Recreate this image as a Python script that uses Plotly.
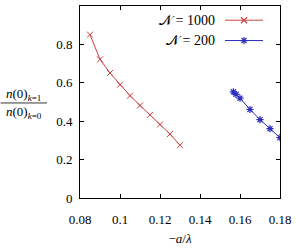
import plotly.graph_objects as go

# Data
x_1000 = [0.085, 0.09, 0.095, 0.10, 0.105, 0.11, 0.115, 0.12, 0.125, 0.13]
y_1000 = [0.851, 0.722, 0.651, 0.590, 0.533, 0.482, 0.433, 0.383, 0.333, 0.275]
x_200 = [0.1567, 0.158, 0.160, 0.165, 0.170, 0.175, 0.180]
y_200 = [0.553, 0.540, 0.520, 0.461, 0.408, 0.361, 0.314]
labels = ["𝒩 = 1000", "𝒩 = 200"]

RED = "rgb(205,65,65)"
BLUE = "rgb(45,45,190)"
FONT = "Liberation Serif"

fig = go.Figure()
fig.add_trace(go.Scatter(x=x_1000, y=y_1000, mode="lines+markers",
                         line=dict(color=RED, width=1),
                         marker=dict(symbol="x-thin-open", size=6, color=RED, line=dict(color=RED, width=1)),
                         showlegend=False))
fig.add_trace(go.Scatter(x=x_200, y=y_200, mode="lines+markers",
                         line=dict(color=BLUE, width=1),
                         marker=dict(symbol="asterisk-open", size=6, color=BLUE, line=dict(color=BLUE, width=1.2)),
                         showlegend=False))

# custom legend (text left of sample)
leg = [(labels[0], RED, "x-thin-open", 0.926), (labels[1], BLUE, "asterisk-open", 0.82)]
for txt, col, sym, yy in leg:
    fig.add_annotation(x=0.685, y=yy, xref="paper", yref="paper", text=txt, showarrow=False,
                       xanchor="right", yanchor="middle", font=dict(family=FONT, size=14, color="black"))
    fig.add_shape(type="line", xref="paper", yref="paper", x0=0.725, x1=0.915, y0=yy, y1=yy,
                  line=dict(color=col, width=1))
    fig.add_trace(go.Scatter(x=[0.82], y=[yy], xaxis="x2", yaxis="y2", mode="markers",
                             marker=dict(symbol=sym, size=6, color=col, line=dict(color=col, width=1.2)),
                             showlegend=False, hoverinfo="skip"))

# y-axis label as fraction
fig.add_annotation(x=-0.282, y=0.54, xref="paper", yref="paper", text="<i>n</i>(0)<sub><i>k</i>=1</sub>",
                   showarrow=False, xanchor="center", yanchor="middle", font=dict(family=FONT, size=13, color="black"))
fig.add_annotation(x=-0.282, y=0.445, xref="paper", yref="paper", text="<i>n</i>(0)<sub><i>k</i>=0</sub>",
                   showarrow=False, xanchor="center", yanchor="middle", font=dict(family=FONT, size=13, color="black"))
fig.add_shape(type="line", xref="paper", yref="paper", x0=-0.397, x1=-0.165, y0=0.495, y1=0.495,
              line=dict(color="black", width=0.8))

axis_common = dict(showline=True, linecolor="black", linewidth=1, mirror="allticks",
                   ticks="inside", ticklen=4, tickcolor="black", showgrid=False, zeroline=False,
                   tickfont=dict(family=FONT, size=13, color="black"))
fig.update_layout(
    width=296, height=249, margin=dict(l=80, r=14, t=5, b=42),
    plot_bgcolor="white", paper_bgcolor="white",
    xaxis=dict(range=[0.08, 0.18], dtick=0.02, tick0=0.08, ticklabelstandoff=9,
               title=dict(text="−<i>a</i>/<i>λ</i>", font=dict(family=FONT, size=13, color="black"), standoff=8),
               **axis_common),
    yaxis=dict(range=[0, 1], dtick=0.2, ticklabelstandoff=4, **axis_common),
    xaxis2=dict(range=[0, 1], overlaying="x", visible=False),
    yaxis2=dict(range=[0, 1], overlaying="y", visible=False),
)
fig.write_html("out.html", config={"displayModeBar": False},
               post_script="document.body.style.margin='0';")
